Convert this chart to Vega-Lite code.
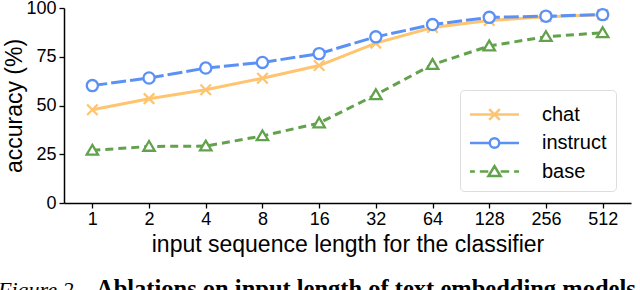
{
  "$schema": "https://vega.github.io/schema/vega-lite/v6.json",
  "width": 567,
  "height": 195,
  "autosize": {"type": "none"},
  "padding": {"left": 64, "top": 8, "right": 9, "bottom": 87},
  "background": "white",
  "config": {
    "view": {"stroke": null},
    "font": "Liberation Sans",
    "axis": {
      "domainColor": "black",
      "domainWidth": 1.5,
      "tickColor": "black",
      "tickWidth": 1.3,
      "tickSize": 5,
      "labelFont": "Liberation Sans",
      "labelFontSize": 18,
      "labelColor": "black",
      "titleFont": "Liberation Sans",
      "titleFontSize": 23,
      "titleFontWeight": "normal",
      "titleColor": "black",
      "grid": false
    },
    "legend": {
      "title": null,
      "orient": "none",
      "legendX": 396,
      "legendY": 82,
      "padding": 9,
      "strokeColor": "#dddddd",
      "fillColor": "white",
      "cornerRadius": 4,
      "labelFont": "Liberation Sans",
      "labelFontSize": 20,
      "labelColor": "black",
      "symbolSize": 784,
      "symbolStrokeWidth": 2.5,
      "labelOffset": 32,
      "rowPadding": 2.5,
      "symbolOffset": 10
    }
  },
  "title": {
    "text": "Figure 2.",
    "subtitle": "\u200b\u2003\u2003\u2003\u2003Ablations on input length of text embedding models",
    "orient": "bottom",
    "anchor": "start",
    "frame": "bounds",
    "font": "Liberation Serif",
    "fontSize": 22,
    "fontStyle": "italic",
    "fontWeight": "normal",
    "color": "black",
    "subtitleFont": "Liberation Serif",
    "subtitleFontSize": 24.5,
    "subtitleFontWeight": "bold",
    "subtitleColor": "black",
    "subtitlePadding": -24,
    "offset": 24,
    "dx": -6
  },
  "data": {
    "values": [
      {"len": "1", "series": "chat", "acc": 47.8},
      {"len": "2", "series": "chat", "acc": 53.5},
      {"len": "4", "series": "chat", "acc": 58.1},
      {"len": "8", "series": "chat", "acc": 64},
      {"len": "16", "series": "chat", "acc": 70.5},
      {"len": "32", "series": "chat", "acc": 82},
      {"len": "64", "series": "chat", "acc": 90},
      {"len": "128", "series": "chat", "acc": 93.6},
      {"len": "256", "series": "chat", "acc": 95.5},
      {"len": "512", "series": "chat", "acc": 96.6},
      {"len": "1", "series": "instruct", "acc": 60.2},
      {"len": "2", "series": "instruct", "acc": 64.1},
      {"len": "4", "series": "instruct", "acc": 69.2},
      {"len": "8", "series": "instruct", "acc": 72.1},
      {"len": "16", "series": "instruct", "acc": 76.6},
      {"len": "32", "series": "instruct", "acc": 85.2},
      {"len": "64", "series": "instruct", "acc": 91.5},
      {"len": "128", "series": "instruct", "acc": 95.2},
      {"len": "256", "series": "instruct", "acc": 95.8},
      {"len": "512", "series": "instruct", "acc": 96.6},
      {"len": "1", "series": "base", "acc": 27},
      {"len": "2", "series": "base", "acc": 29},
      {"len": "4", "series": "base", "acc": 29.2},
      {"len": "8", "series": "base", "acc": 34.4},
      {"len": "16", "series": "base", "acc": 41},
      {"len": "32", "series": "base", "acc": 55.5},
      {"len": "64", "series": "base", "acc": 71},
      {"len": "128", "series": "base", "acc": 80.5},
      {"len": "256", "series": "base", "acc": 85.3},
      {"len": "512", "series": "base", "acc": 87.3}
    ]
  },
  "encoding": {
    "x": {
      "field": "len",
      "type": "ordinal",
      "sort": null,
      "scale": {"type": "point", "padding": 0.5},
      "axis": {"title": "input sequence length for the classifier", "labelAngle": 0, "labelPadding": 2, "titlePadding": 5}
    },
    "y": {
      "field": "acc",
      "type": "quantitative",
      "scale": {"domain": [0, 100], "nice": false},
      "axis": {"title": "accuracy (%)", "values": [0, 25, 50, 75, 100], "labelPadding": 3, "titlePadding": -1}
    },
    "color": {
      "field": "series",
      "type": "nominal",
      "scale": {"domain": ["chat", "instruct", "base"], "range": ["#ffc46f", "#5b91f5", "#63a24c"]}
    }
  },
  "layer": [
    {
      "transform": [{"filter": "false"}],
      "mark": {"type": "point", "filled": false, "fill": "white", "opacity": 1, "strokeWidth": 2.5, "size": 784},
      "encoding": {
        "shape": {
          "field": "series",
          "type": "nominal",
          "scale": {"domain": ["chat", "instruct", "base"], "range": [
            "M-1.75,0L1.75,0M-0.38,-0.38L0.38,0.38M-0.38,0.38L0.38,-0.38",
            "M-1.75,0L-0.34,0M0.34,0L1.75,0M-0.34,0A0.34,0.34,0,1,0,0.34,0A0.34,0.34,0,1,0,-0.34,0Z",
            "M-1.75,0L-1.4,0M-1.05,0L-0.44,0M0.44,0L1.05,0M1.4,0L1.75,0M0,-0.38L0.43,0.33L-0.43,0.33Z"
          ]}
        }
      }
    },
    {
      "transform": [{"filter": "datum.series == 'chat'"}],
      "mark": {"type": "line", "strokeWidth": 3}
    },
    {
      "transform": [{"filter": "datum.series == 'instruct'"}],
      "mark": {"type": "line", "strokeWidth": 3, "strokeDash": [15, 4]}
    },
    {
      "transform": [{"filter": "datum.series == 'base'"}],
      "mark": {"type": "line", "strokeWidth": 3, "strokeDash": [8, 5]}
    },
    {
      "transform": [{"filter": "datum.series == 'chat'"}],
      "mark": {"type": "point", "filled": false, "opacity": 1, "strokeWidth": 2.3, "size": 110, "shape": "M-1,-1L1,1M-1,1L1,-1"}
    },
    {
      "transform": [{"filter": "datum.series == 'instruct'"}],
      "mark": {"type": "point", "filled": false, "fill": "white", "fillOpacity": 1, "opacity": 1, "strokeWidth": 2.3, "size": 125, "shape": "circle"}
    },
    {
      "transform": [{"filter": "datum.series == 'base'"}],
      "mark": {"type": "point", "filled": false, "fill": "white", "fillOpacity": 1, "opacity": 1, "strokeWidth": 2.3, "size": 130, "shape": "M0,-0.95L1,0.75L-1,0.75Z"}
    }
  ]
}
